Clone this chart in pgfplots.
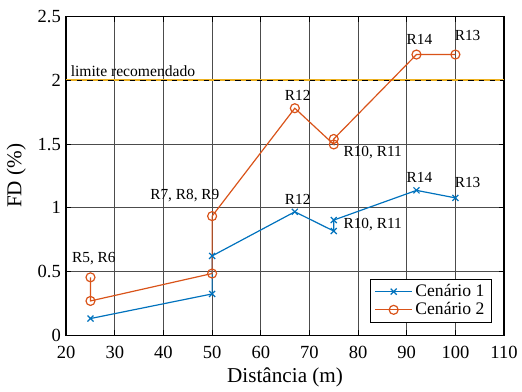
\documentclass[border=0pt]{standalone}
\usepackage{pgfplots}
\pgfplotsset{compat=1.18}
\usepackage{fontspec}
\setmainfont{Liberation Serif}
\definecolor{c1}{HTML}{0072BD}
\definecolor{c2}{HTML}{D95319}
\definecolor{c3}{HTML}{EDB120}
\definecolor{gridc}{gray}{0.3}
\begin{document}
\begin{tikzpicture}[annot/.style={font=\fontsize{11.6}{14}\selectfont}]
\begin{axis}[
  at={(0,0)}, anchor=south west,
  scale only axis,
  width=331pt, height=241pt,
  xmin=20, xmax=110, ymin=0, ymax=2.5,
  xtick={20,30,...,110},
  ytick={0,0.5,1,1.5,2,2.5},
  yticklabels={0,0.5,1,1.5,2,2.5},
  /pgf/number format/assume math mode=true,
  grid=major,
  major grid style={gridc, line width=0.75pt},
  axis line style={black, line width=1.1pt},
  tick style={black, line width=0.8pt},
  tick align=inside,
  major tick length=4pt,
  ticklabel style={font=\fontsize{14}{16}\selectfont},
  xticklabel style={yshift=-4.5pt},
  yticklabel style={xshift=-0.5pt},
  label style={font=\fontsize{16}{19}\selectfont},
  xlabel={Distância (m)},
  ylabel={FD (\%)},
  xlabel style={yshift=-0.5pt},
  ylabel style={yshift=2pt},
  legend style={at={(rel axis cs:0.971,0.04)}, anchor=south east,
    font=\fontsize{13.3}{15}\selectfont, draw=black, line width=0.6pt,
    inner xsep=3pt, inner ysep=2pt, row sep=-1pt},
  legend image code/.code={\draw[mark repeat=2,mark phase=2,#1] plot coordinates {(0pt,0pt) (14pt,0pt) (28pt,0pt)};},
  legend cell align=left,
]
\addplot[c3, line width=1.4pt, forget plot] coordinates {(20,2) (110,2)};
\addplot[black, line width=0.6pt, dash pattern=on 4pt off 4pt, forget plot] coordinates {(20,2) (110,2)};
\addplot[c1, line width=0.9pt, mark=x, mark size=3.2pt, mark options={line width=0.9pt}] coordinates {
(25,0.132) (50,0.325) (50,0.623) (67,0.969) (75,0.818) (75,0.904) (92,1.137) (100,1.078)};
\addlegendentry{Cenário 1}
\addplot[c2, line width=0.9pt, mark=o, mark size=3.4pt, mark options={line width=0.9pt}] coordinates {
(25,0.455) (25,0.270) (50,0.485) (50,0.935) (67,1.781) (75,1.497) (75,1.540) (92,2.202) (100,2.202)};
\addlegendentry{Cenário 2}
\node[anchor=south west, inner sep=0pt, font=\fontsize{11.8}{14}\selectfont] at (axis cs:20.9,2.03) {limite recomendado};
\node[annot] at (axis cs:25.7,0.60) {R5, R6};
\node[annot] at (axis cs:44.4,1.093) {R7, R8, R9};
\node[annot] at (axis cs:67.6,1.88) {R12};
\node[annot] at (axis cs:83,1.43) {R10, R11};
\node[annot] at (axis cs:92.6,2.32) {R14};
\node[annot] at (axis cs:102.5,2.35) {R13};
\node[annot] at (axis cs:67.6,1.067) {R12};
\node[annot] at (axis cs:83,0.865) {R10, R11};
\node[annot] at (axis cs:92.6,1.236) {R14};
\node[annot] at (axis cs:102.5,1.195) {R13};
\end{axis}
\path[use as bounding box] (-50pt,-38.5pt) rectangle (341.5pt,253.5pt);
\end{tikzpicture}
\end{document}
